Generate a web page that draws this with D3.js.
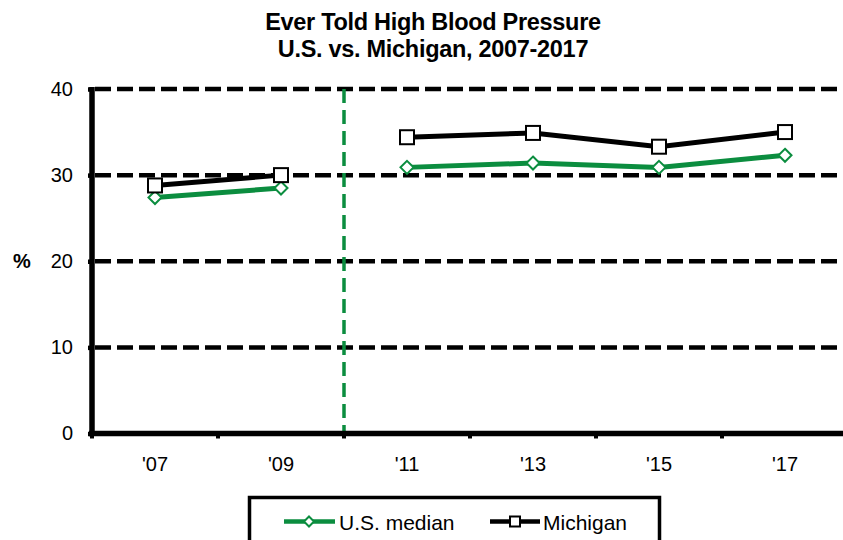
<!DOCTYPE html>
<html>
<head>
<meta charset="utf-8">
<script src="https://cdn.jsdelivr.net/npm/d3@7"></script>
<style>
  html, body { margin: 0; padding: 0; background: #fff; }
  svg { display: block; font-family: "Liberation Sans", Arial, sans-serif; }
</style>
</head>
<body>
<svg id="chart" width="843" height="540"></svg>
<script>
// Survey years and prevalence (%) of adults ever told they have high blood pressure
const years = ["'07", "'09", "'11", "'13", "'15", "'17"];
const usMedian = [27.4, 28.5, 30.9, 31.4, 30.9, 32.3];
const michigan = [28.8, 30.0, 34.4, 34.9, 33.3, 35.0];
const yTicks = [0, 10, 20, 30, 40];
// Methodology change: lines are not joined across this index
const breakIndex = 2;

const titleLines = ["Ever Told High Blood Pressure", "U.S. vs. Michigan, 2007-2017"];
const GREEN = "#0b8d3f";

const svg = d3.select("#chart");
const plotLeft = 92, plotRight = 848, plotTop = 89, plotBottom = 433.5;

const x = d3.scaleBand().domain(years).range([plotLeft, plotRight]).paddingInner(0).paddingOuter(0);
const y = d3.scaleLinear().domain([0, 40]).range([plotBottom, plotTop]);
const cx = d => x(d) + x.bandwidth() / 2;

// Title
svg.append("g").selectAll("text").data(titleLines).join("text")
  .attr("x", 433).attr("y", (d, i) => 30 + i * 27)
  .attr("text-anchor", "middle")
  .attr("font-size", 23.5).attr("font-weight", "bold")
  .attr("letter-spacing", -0.3)
  .text(d => d);

// Dashed horizontal gridlines
svg.append("g").selectAll("line").data(yTicks.filter(t => t > 0)).join("line")
  .attr("x1", plotLeft + 3).attr("x2", 843)
  .attr("y1", d => y(d)).attr("y2", d => y(d))
  .attr("stroke", "#000").attr("stroke-width", 4.5)
  .attr("stroke-dasharray", "16,6");

// Vertical divider between the '09 and '11 bands
const divX = x(years[breakIndex]);
svg.append("line")
  .attr("x1", divX).attr("x2", divX)
  .attr("y1", y(40)).attr("y2", plotBottom)
  .attr("stroke", GREEN).attr("stroke-width", 3.5)
  .attr("stroke-dasharray", "14,7");

// Y axis
const yAxis = svg.append("g").attr("transform", `translate(${plotLeft},0)`)
  .call(d3.axisLeft(y).tickValues(yTicks).tickSize(4).tickPadding(15).tickFormat(d3.format("d")));
yAxis.select(".domain").attr("stroke", "#000").attr("stroke-width", 5.5)
  .attr("d", `M0,${plotTop - 2}V${plotBottom}`);
yAxis.selectAll(".tick line").attr("stroke", "#000").attr("stroke-width", 4.5);
yAxis.selectAll(".tick text").attr("font-size", 20).attr("fill", "#000")
  .attr("font-family", "Liberation Sans, Arial, sans-serif");

// X axis: ticks sit on band boundaries, labels centred in bands
const xAxisG = svg.append("g").attr("transform", `translate(0,${plotBottom})`);
xAxisG.append("line").attr("x1", plotLeft - 3).attr("x2", 843)
  .attr("y1", 0).attr("y2", 0).attr("stroke", "#000").attr("stroke-width", 5.5);
const bounds = years.map(d => x(d)).concat([plotRight]);
xAxisG.selectAll("line.tk").data(bounds).join("line").attr("class", "tk")
  .attr("x1", d => d).attr("x2", d => d).attr("y1", 0).attr("y2", 5)
  .attr("stroke", "#000").attr("stroke-width", 4);
xAxisG.selectAll("text").data(years).join("text")
  .attr("x", d => cx(d)).attr("y", 37)
  .attr("text-anchor", "middle").attr("font-size", 20)
  .text(d => d);

// Y axis title
svg.append("text").attr("x", 22).attr("y", 268).attr("text-anchor", "middle")
  .attr("font-size", 20).attr("font-weight", "bold").text("%");

// Series
const lineGen = d3.line().x(d => cx(d.year)).y(d => y(d.value));
function drawSeries(values, color, marker) {
  const pts = values.map((v, i) => ({ year: years[i], value: v, i }));
  const segs = [pts.filter(p => p.i < breakIndex), pts.filter(p => p.i >= breakIndex)];
  const g = svg.append("g");
  g.selectAll("path.seg").data(segs).join("path").attr("class", "seg")
    .attr("d", lineGen).attr("fill", "none")
    .attr("stroke", color).attr("stroke-width", 5);
  if (marker === "square") {
    g.selectAll("rect").data(pts).join("rect")
      .attr("x", d => cx(d.year) - 7).attr("y", d => y(d.value) - 7)
      .attr("width", 14).attr("height", 14)
      .attr("fill", "#fff").attr("stroke", color).attr("stroke-width", 2);
  } else {
    g.selectAll("path.mk").data(pts).join("path").attr("class", "mk")
      .attr("transform", d => `translate(${cx(d.year)},${y(d.value)})`)
      .attr("d", "M0,-6.5L6.5,0L0,6.5L-6.5,0Z")
      .attr("fill", "#fff").attr("stroke", color).attr("stroke-width", 2);
  }
}
drawSeries(usMedian, GREEN, "diamond");
drawSeries(michigan, "#000", "square");

// Legend
const lg = svg.append("g");
lg.append("rect").attr("x", 249.5).attr("y", 497.5).attr("width", 410).attr("height", 80)
  .attr("fill", "#fff").attr("stroke", "#000").attr("stroke-width", 3.5);
lg.append("line").attr("x1", 284).attr("x2", 335).attr("y1", 521.5).attr("y2", 521.5)
  .attr("stroke", GREEN).attr("stroke-width", 4.5);
lg.append("path").attr("transform", "translate(309,521.5)")
  .attr("d", "M0,-5L5,0L0,5L-5,0Z").attr("fill", "#fff").attr("stroke", GREEN).attr("stroke-width", 2);
lg.append("text").attr("x", 339).attr("y", 530).attr("font-size", 21).text("U.S. median");
lg.append("line").attr("x1", 490).attr("x2", 540).attr("y1", 521.5).attr("y2", 521.5)
  .attr("stroke", "#000").attr("stroke-width", 4.5);
lg.append("rect").attr("x", 510).attr("y", 516.5).attr("width", 10).attr("height", 10)
  .attr("fill", "#fff").attr("stroke", "#000").attr("stroke-width", 2);
lg.append("text").attr("x", 543).attr("y", 530).attr("font-size", 21).text("Michigan");
</script>
</body>
</html>
